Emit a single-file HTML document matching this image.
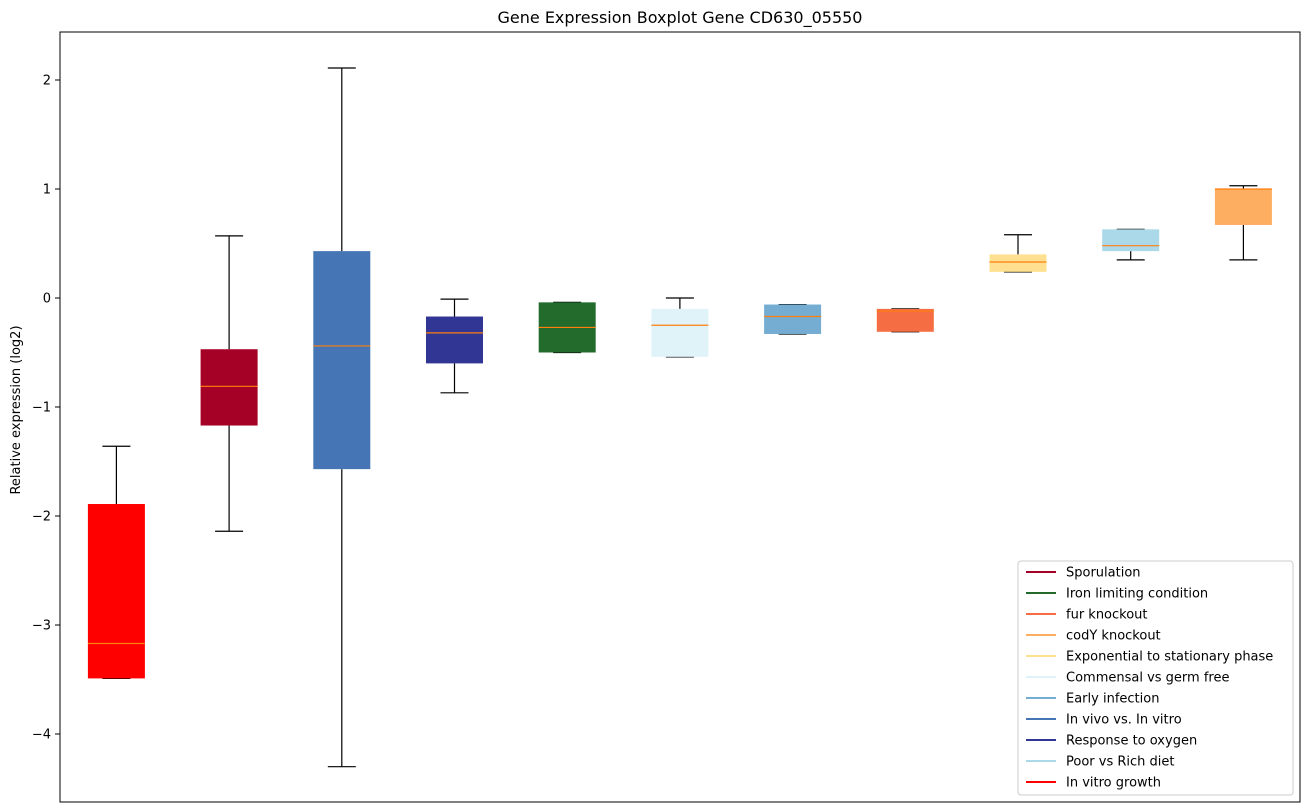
<!DOCTYPE html>
<html><head><meta charset="utf-8"><style>
body{margin:0;background:#fff;}
svg{display:block;font-family:"DejaVu Sans","Liberation Sans",sans-serif;}
</style></head><body>
<svg id="chart" width="1309" height="812" viewBox="0 0 1309 812" xmlns="http://www.w3.org/2000/svg">
<rect width="1309" height="812" fill="#fff"/>
<text x="680" y="23" text-anchor="middle" font-size="16">Gene Expression Boxplot Gene CD630_05550</text>
<text transform="translate(20,410) rotate(-90)" text-anchor="middle" font-size="13">Relative expression (log2)</text>
<g id="ticks"></g>
<g id="boxes"></g>
<rect x="60" y="32" width="1240" height="770" fill="none" stroke="#000" stroke-width="1"/>
<g id="legend"></g>
</svg>
<script>
const categories=["In vitro growth","Sporulation","In vivo vs. In vitro","Response to oxygen","Iron limiting condition","Commensal vs germ free","Early infection","fur knockout","Exponential to stationary phase","Poor vs Rich diet","codY knockout"];
const colors=["#ff0000","#a50026","#4575b4","#313695","#236b2d","#e0f3f8","#74add1","#f46d43","#fee090","#abd9e9","#fdae61"];
const whiskerLow=[-3.49,-2.14,-4.30,-0.87,-0.50,-0.54,-0.33,-0.31,0.24,0.35,0.35];
const q1=[-3.49,-1.17,-1.57,-0.60,-0.50,-0.54,-0.33,-0.31,0.24,0.43,0.67];
const median=[-3.17,-0.81,-0.44,-0.32,-0.27,-0.25,-0.17,-0.12,0.33,0.48,1.00];
const q3=[-1.89,-0.47,0.43,-0.17,-0.04,-0.10,-0.06,-0.10,0.40,0.63,1.00];
const whiskerHigh=[-1.36,0.57,2.11,-0.01,-0.04,0.00,-0.06,-0.10,0.58,0.63,1.03];
const yTicks=[2,1,0,-1,-2,-3,-4];
const legendLabels=["Sporulation","Iron limiting condition","fur knockout","codY knockout","Exponential to stationary phase","Commensal vs germ free","Early infection","In vivo vs. In vitro","Response to oxygen","Poor vs Rich diet","In vitro growth"];
const legendColors=["#a50026","#236b2d","#f46d43","#fdae61","#fee090","#e0f3f8","#74add1","#4575b4","#313695","#abd9e9","#ff0000"];

const NS="http://www.w3.org/2000/svg";
const yS=v=>298-109*v;
const xS=i=>116.4+i*112.7;
function mk(tag,attrs,parent){const e=document.createElementNS(NS,tag);for(const k in attrs)e.setAttribute(k,attrs[k]);parent.appendChild(e);return e;}
const tg=document.getElementById('ticks');
yTicks.forEach(t=>{
  const l=mk('line',{x1:55,x2:60,y1:yS(t),y2:yS(t),stroke:'#000'},tg);
  
  
  const tx=mk('text',{x:51,y:yS(t)+4.5,'text-anchor':'end','font-size':13},tg);
  
  
  tx.textContent=t<0?'\u2212'+(-t):String(t);
});
const bg=document.getElementById('boxes');
categories.forEach((c,i)=>{
  const x=xS(i),w=57,cw=28;
  const g=mk('g',{},bg);
  
  
  mk('line',{x1:x,x2:x,y1:yS(whiskerHigh[i]),y2:yS(q3[i]),stroke:'#000','stroke-width':1.2},g);
  mk('line',{x1:x,x2:x,y1:yS(q1[i]),y2:yS(whiskerLow[i]),stroke:'#000','stroke-width':1.2},g);
  mk('line',{x1:x-cw/2,x2:x+cw/2,y1:yS(whiskerHigh[i]),y2:yS(whiskerHigh[i]),stroke:'#000','stroke-width':1.2},g);
  mk('line',{x1:x-cw/2,x2:x+cw/2,y1:yS(whiskerLow[i]),y2:yS(whiskerLow[i]),stroke:'#000','stroke-width':1.2},g);
  const top=yS(q3[i]),bot=yS(q1[i]);
  mk('rect',{x:x-w/2,y:top,width:w,height:Math.max(bot-top,1),fill:colors[i]},g);
  mk('line',{x1:x-w/2,x2:x+w/2,y1:yS(median[i]),y2:yS(median[i]),stroke:'#ff7f0e','stroke-width':1.2},g);
});
const lg=document.getElementById('legend');
const frame=mk('rect',{x:1018,y:561,width:275,height:234,rx:3,fill:'#fff',stroke:'#ccc'},lg);


legendLabels.forEach((l,i)=>{
  const y=572+i*21;
  const g=mk('g',{},lg);
  
  
  mk('line',{x1:1026,x2:1056,y1:y,y2:y,stroke:legendColors[i],'stroke-width':2},g);
  const t=mk('text',{x:1066,y:y+4.5,'font-size':13},g);
  t.textContent=l;
});
</script>
</body></html>
